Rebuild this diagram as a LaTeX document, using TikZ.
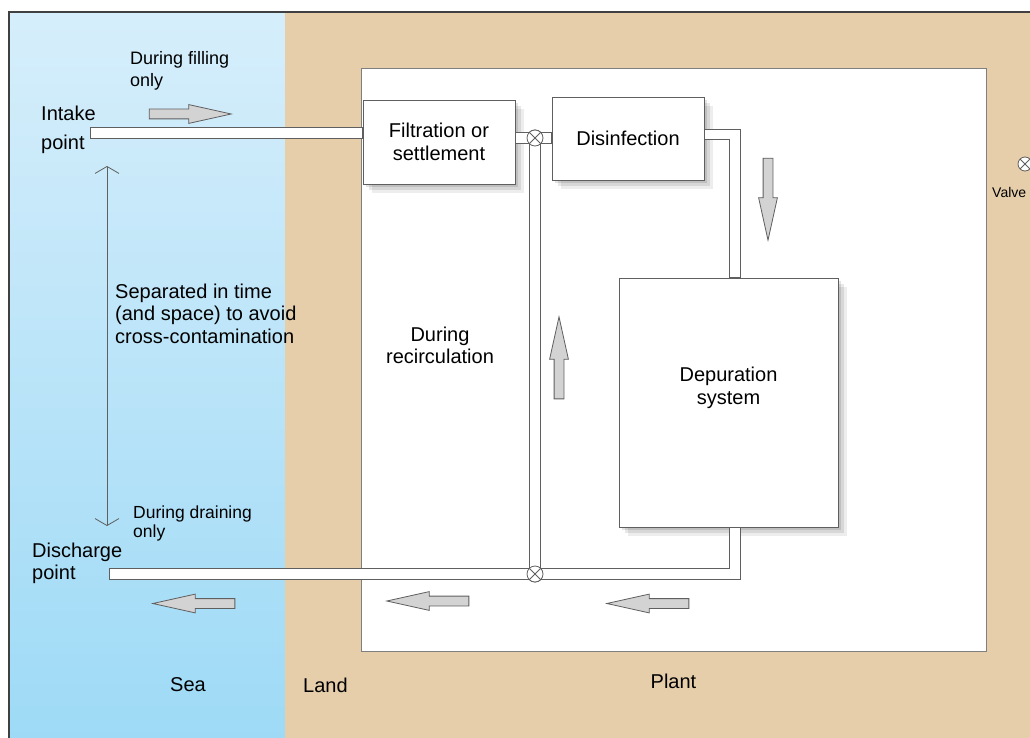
\documentclass[tikz,border=0pt]{standalone}
\usepackage{fontspec}
\setmainfont{Liberation Sans}
\usetikzlibrary{positioning}
\usetikzlibrary{shapes.arrows}
\usetikzlibrary{shadows}
\usetikzlibrary{arrows.meta}

\definecolor{seatop}{RGB}{214,238,251}
\definecolor{seabottom}{RGB}{158,218,246}
\definecolor{land}{RGB}{230,206,170}
\definecolor{edge}{RGB}{95,95,95}
\definecolor{arrowgray}{RGB}{211,211,211}

\begin{document}
\begin{tikzpicture}[x=1pt,y=-1pt,node distance=20pt,%
  every node/.style={font=\fontsize{20}{22.5}\selectfont,inner sep=0pt},%
  box/.style={draw=edge,fill=white,line width=0.9pt,%
    drop shadow={shadow xshift=9pt,shadow yshift=-9pt,opacity=0.07,fill=black},%
    drop shadow={shadow xshift=6pt,shadow yshift=-6pt,opacity=0.09,fill=black},%
    drop shadow={shadow xshift=3pt,shadow yshift=-3pt,opacity=0.11,fill=black}},%
  pipe/.style={draw=edge,line width=0.9pt,double=white,%
    double distance=9.5pt,line cap=rect},%
  valve/.style={circle,draw=edge,fill=white,line width=0.8pt,%
    minimum size=16pt,path picture={\draw[edge,line width=0.8pt]
      (path picture bounding box.north west) -- (path picture bounding box.south east)
      (path picture bounding box.north east) -- (path picture bounding box.south west);}},%
  flow/.style={single arrow,draw=edge,fill=arrowgray,line width=0.8pt,%
    minimum height=82pt,inner sep=4.5pt,single arrow head extend=4.5pt,%
    single arrow tip angle=25,anchor=tip},%
  small/.style={font=\fontsize{18}{22}\selectfont}]
  \useasboundingbox (0,0) rectangle (1030,738);

  % sea and land
  \fill[top color=seatop,bottom color=seabottom] (9,12) rectangle (285,738);
  \fill[land] (285,12) rectangle (1030,738);
  \draw[black!75,line width=1.6pt] (9,738) -- (9,12) -- (1030,12);

  % plant and treatment units
  \node[draw=edge!80,fill=white,line width=0.9pt,minimum width=625pt,%
    minimum height=583pt] (plant) at (673.5,359.5) {};
  \node[box,minimum width=152pt,minimum height=84pt,align=center]
    (filt) at (439,142) {Filtration or\\settlement};
  \node[box,minimum width=152pt,minimum height=83pt]
    (disinf) at (628,138.5) {Disinfection};
  \node[box,minimum width=219pt,minimum height=249pt]
    (depur) at (728.5,402.5) {};

  % pipework
  \coordinate (intake) at (96,133);
  \coordinate (discharge) at (114.6,574);
  \node[valve] (topvalve) at (535,138) {};
  \node[valve] (lowvalve) at (535,574) {};
  \draw[pipe,shorten >=5.65pt] (intake) -- (intake -| filt.west);
  \draw[pipe,shorten <=5.65pt,shorten >=5.65pt]
    (filt.east |- topvalve) -- (disinf.west |- topvalve);
  \draw[pipe,shorten <=5.65pt,shorten >=5.65pt]
    ([yshift=4pt]disinf.east) -| ([xshift=6.5pt]depur.north);
  \draw[pipe] (topvalve) -- (lowvalve);
  \draw[pipe,shorten <=5.65pt] ([xshift=6.5pt]depur.south) |- (discharge);
  \node[valve] at (topvalve) {};
  \node[valve] at (lowvalve) {};

  % flow directions, placed by their tips
  \node[flow] (fillarrow) at (233,114) {};
  \node[flow,shape border rotate=270] (downarrow) at (768,242) {};
  \node[flow,shape border rotate=90] (uparrow) at (559,315) {};
  \node[flow,shape border rotate=180] (drainarrow) at (151,603.5) {};
  \node[flow,shape border rotate=180] (recircarrow) at (385,601) {};
  \node[flow,shape border rotate=180] (outarrow) at (605,603.5) {};

  % separation between intake and discharge
  \coordinate (septop) at (107,166);
  \coordinate (sepbot) at (107,526);
  \draw[edge,line width=0.8pt,%
    {Straight Barb[length=7pt,width=24pt]}-{Straight Barb[length=7pt,width=24pt]}]
    (septop) -- (sepbot);

  % key
  \node[valve,minimum size=14pt] (keyvalve) at (1025,164) {};
  \node[font=\fontsize{14}{16}\selectfont,anchor=west] (keylabel) at (992,192) {Valve};

  % labels
  \node[small,align=left,anchor=north west] (filllabel) at (130,51)
    {During filling\\only};
  \node[font=\fontsize{20}{29}\selectfont,align=left,anchor=north west]
    (intakelabel) at (41,106.3) {Intake\\point};
  \node[align=left,anchor=north west] (seplabel) at (115,283.5)
    {Separated in time\\(and space) to avoid\\cross-contamination};
  \node[font=\fontsize{17.5}{19.5}\selectfont,align=left,anchor=north west]
    (drainlabel) at (133,505.4) {During draining\\only};
  \node[align=left,anchor=north west] (dischargelabel) at (32,542.6)
    {Discharge\\point};
  \node[align=center,anchor=north] (recirclabel) at (440,326.6)
    {During\\recirculation};
  \node[align=center] (depurlabel) [below=89.6pt of depur.north]
    {Depuration\\system};
  \node (sealabel) at (188,685) {Sea};
  \node[anchor=west] (landlabel) at (303,685) {Land};
  \node (plantlabel) [below=22pt of plant] {Plant};
\end{tikzpicture}
\end{document}
